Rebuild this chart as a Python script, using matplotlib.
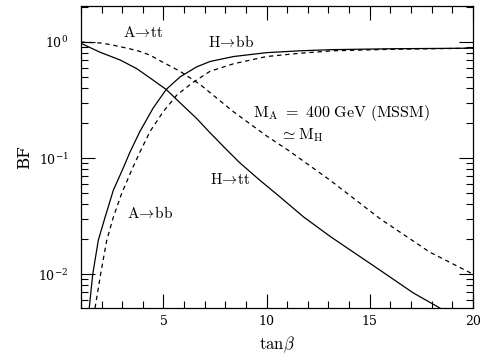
import numpy as np
import matplotlib
matplotlib.use("Agg")
import matplotlib.pyplot as plt
from matplotlib.ticker import MultipleLocator, LogLocator, NullFormatter, FixedLocator

plt.rcParams['font.family'] = 'DejaVu Serif'
plt.rcParams['mathtext.fontset'] = 'cm'

# H -> tt (solid)
tanb_htt = [1.0, 1.9, 2.9, 3.7, 4.35, 5.13, 5.8, 6.6, 7.26, 8.0, 8.7, 9.6, 10.6, 11.8, 13.1, 15.5, 17.1, 18.4]
bf_htt = [0.975, 0.82, 0.70, 0.59, 0.49, 0.39, 0.30, 0.22, 0.165, 0.121, 0.091, 0.066, 0.047, 0.031, 0.021, 0.0108, 0.0069, 0.0051]

# A -> tt (dashed)
tanb_att = [1.0, 2.0, 2.55, 3.3, 3.86, 4.35, 4.83, 5.8, 6.78, 8.4, 10.0, 11.1, 13.1, 15.5, 17.9, 20.0]
bf_att = [1.0, 0.98, 0.94, 0.88, 0.83, 0.77, 0.69, 0.56, 0.43, 0.25, 0.155, 0.115, 0.064, 0.030, 0.0155, 0.0100]

# H -> bb (solid)
tanb_hbb = [1.40, 1.57, 1.84, 2.17, 2.57, 2.98, 3.38, 3.86, 4.5, 5.13, 5.8, 6.6, 7.26, 8.4, 10.0, 11.6, 13.2, 16.0, 20.0]
bf_hbb = [0.0051, 0.01, 0.0196, 0.031, 0.053, 0.077, 0.113, 0.17, 0.27, 0.39, 0.50, 0.61, 0.68, 0.75, 0.81, 0.84, 0.86, 0.875, 0.885]

# A -> bb (dashed)
tanb_abb = [1.68, 1.96, 2.25, 2.57, 2.98, 3.46, 3.86, 4.35, 4.98, 5.65, 6.44, 7.26, 8.4, 10.0, 11.6, 13.2, 16.0, 20.0]
bf_abb = [0.0051, 0.0102, 0.0196, 0.031, 0.050, 0.079, 0.113, 0.17, 0.25, 0.35, 0.45, 0.56, 0.65, 0.75, 0.80, 0.84, 0.865, 0.885]

fig = plt.figure(figsize=(4.85, 3.59), dpi=100)
ax = fig.add_axes([0.167, 0.142, 0.808, 0.841])

lw = 0.9
dash = (0, (3.5, 3))
ax.plot(tanb_htt, bf_htt, color='black', lw=lw)
ax.plot(tanb_att, bf_att, color='black', lw=lw, ls=dash)
ax.plot(tanb_hbb, bf_hbb, color='black', lw=lw)
ax.plot(tanb_abb, bf_abb, color='black', lw=lw, ls=dash)

ax.set_yscale('log')
ax.set_xlim(1, 20)
ax.set_ylim(0.0051, 2.04)

ax.xaxis.set_major_locator(FixedLocator([5, 10, 15, 20]))
ax.xaxis.set_minor_locator(MultipleLocator(1))
ax.yaxis.set_major_locator(LogLocator(base=10))
ax.yaxis.set_minor_locator(LogLocator(base=10, subs=np.arange(2, 10)))
ax.yaxis.set_minor_formatter(NullFormatter())

ax.tick_params(which='both', direction='in', top=True, right=True, labelsize=9, width=0.8)
ax.tick_params(axis='x', pad=5)
ax.tick_params(axis='y', pad=9)
ax.tick_params(which='major', length=10)
ax.tick_params(which='minor', length=5)
for s in ax.spines.values():
    s.set_linewidth(0.9)

ax.set_xlabel(r'$\mathrm{tan}\beta$', fontsize=12, labelpad=5)
ax.set_ylabel('BF', fontsize=12, labelpad=4)

fs = 11
ax.text(4.03, 1.2, r'$\mathrm{A\!\rightarrow\! tt}$', fontsize=fs, ha='center', va='center')
ax.text(8.28, 1.0, r'$\mathrm{H\!\rightarrow\! bb}$', fontsize=fs, ha='center', va='center')
ax.text(9.35, 0.244, r'$\mathrm{M_A\ =\ 400\ GeV\ (MSSM)}$', fontsize=11.5, ha='left', va='center')
ax.text(10.66, 0.158, r'$\simeq \mathrm{M_H}$', fontsize=11.5, ha='left', va='center')
ax.text(7.26, 0.065, r'$\mathrm{H\!\rightarrow\! tt}$', fontsize=fs, ha='left', va='center')
ax.text(3.22, 0.0336, r'$\mathrm{A\!\rightarrow\! bb}$', fontsize=fs, ha='left', va='center')

fig.savefig('out.png', dpi=100)
